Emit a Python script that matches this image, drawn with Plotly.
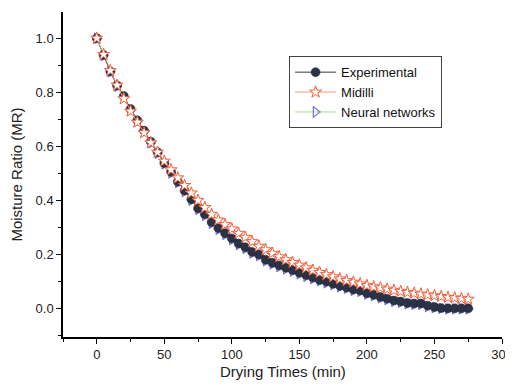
import plotly.graph_objects as go

drying_time = [0, 5, 10, 15, 20, 25, 30, 35, 40, 45, 50, 55, 60, 65, 70, 75, 80, 85, 90, 95,
               100, 105, 110, 115, 120, 125, 130, 135, 140, 145, 150, 155, 160, 165, 170, 175,
               180, 185, 190, 195, 200, 205, 210, 215, 220, 225, 230, 235, 240, 245, 250, 255,
               260, 265, 270, 275]

mr_experimental = [1.000, 0.938, 0.877, 0.825, 0.786, 0.738, 0.696, 0.658, 0.617, 0.578,
                   0.538, 0.505, 0.469, 0.436, 0.404, 0.370, 0.348, 0.319, 0.297, 0.278,
                   0.259, 0.240, 0.226, 0.209, 0.199, 0.180, 0.169, 0.159, 0.150, 0.142,
                   0.132, 0.123, 0.114, 0.105, 0.099, 0.091, 0.083, 0.077, 0.070, 0.066,
                   0.056, 0.050, 0.042, 0.036, 0.029, 0.025, 0.020, 0.018, 0.018, 0.010,
                   0.005, 0.001, 0.000, 0.000, 0.000, 0.000]

mr_midilli = [1.000, 0.940, 0.880, 0.826, 0.776, 0.730, 0.689, 0.650, 0.613, 0.578,
              0.545, 0.513, 0.483, 0.455, 0.427, 0.400, 0.373, 0.348, 0.327, 0.310,
              0.294, 0.278, 0.263, 0.247, 0.230, 0.217, 0.204, 0.191, 0.180, 0.170,
              0.160, 0.150, 0.141, 0.133, 0.125, 0.117, 0.109, 0.103, 0.097, 0.091,
              0.085, 0.080, 0.076, 0.071, 0.067, 0.063, 0.059, 0.056, 0.053, 0.050,
              0.047, 0.044, 0.041, 0.039, 0.036, 0.034]

mr_neural = [1.000, 0.936, 0.876, 0.822, 0.782, 0.734, 0.693, 0.654, 0.613, 0.574,
             0.535, 0.501, 0.466, 0.432, 0.400, 0.367, 0.344, 0.315, 0.293, 0.274,
             0.255, 0.236, 0.222, 0.205, 0.195, 0.176, 0.165, 0.155, 0.146, 0.138,
             0.128, 0.119, 0.110, 0.102, 0.095, 0.088, 0.080, 0.074, 0.067, 0.063,
             0.053, 0.047, 0.039, 0.033, 0.026, 0.022, 0.017, 0.015, 0.015, 0.007,
             0.003, 0.000, -0.002, -0.002, -0.002, -0.002]

x_ticks = [0, 50, 100, 150, 200, 250, 300]
y_ticks = [0.0, 0.2, 0.4, 0.6, 0.8, 1.0]

x_title = "Drying Times (min)"
y_title = "Moisture Ratio (MR)"

font_family = "Liberation Sans, Arial, sans-serif"

fig = go.Figure()

fig.add_trace(go.Scatter(
    x=drying_time, y=mr_neural, name="Neural networks", mode="lines+markers",
    line=dict(color="#a8d89a", width=1),
    marker=dict(symbol="triangle-right-open", size=9, color="#6f74d8", line=dict(width=1.2)),
    legendrank=3,
))
fig.add_trace(go.Scatter(
    x=drying_time, y=mr_experimental, name="Experimental", mode="lines+markers",
    line=dict(color="#3a3a3a", width=1),
    marker=dict(symbol="circle", size=9, color="#2c3246", line=dict(color="#23283a", width=0.5)),
    legendrank=1,
))
fig.add_trace(go.Scatter(
    x=drying_time, y=mr_midilli, name="Midilli", mode="lines+markers",
    line=dict(color="#f59a80", width=1),
    marker=dict(symbol="star", size=9, color="white", line=dict(color="#f0603a", width=1)),
    legendrank=2,
))

axis_common = dict(
    showline=True, linecolor="black", linewidth=1.5, mirror=False,
    ticks="outside", ticklen=5, tickwidth=1.2, tickcolor="black",
    showgrid=False, zeroline=False,
    tickfont=dict(family=font_family, size=13, color="#222"),
)

fig.update_xaxes(
    range=[-25, 300], tickvals=x_ticks, automargin=False,
    minor=dict(ticks="outside", ticklen=3, tickwidth=1, tickcolor="black", dtick=25, tick0=0),
    **axis_common,
)
fig.update_yaxes(
    range=[-0.106, 1.097], tickvals=y_ticks, tickformat=".1f", automargin="left",
    minor=dict(ticks="outside", ticklen=3, tickwidth=1, tickcolor="black", dtick=0.1, tick0=0),
    title=dict(text=y_title, font=dict(family=font_family, size=15, color="#222"), standoff=10),
    **axis_common,
)

fig.add_annotation(
    text=x_title, xref="paper", yref="paper", x=0.5, y=-0.106,
    xanchor="center", yanchor="middle", showarrow=False,
    font=dict(family=font_family, size=15, color="#222"),
)

# page body has an 8px margin, so the figure is sized/offset to land the plot area where the reference has it
fig.update_layout(
    width=505, height=378,
    margin=dict(l=55, r=11, t=4, b=49),
    plot_bgcolor="white", paper_bgcolor="white",
    font=dict(family=font_family, size=13, color="#222"),
    legend=dict(
        x=0.515, y=0.864, xanchor="left", yanchor="top",
        bgcolor="white", bordercolor="#444", borderwidth=1,
        font=dict(family=font_family, size=13, color="#111"),
        traceorder="normal", itemwidth=41,
    ),
    showlegend=True,
)

fig.write_html("out.html")
